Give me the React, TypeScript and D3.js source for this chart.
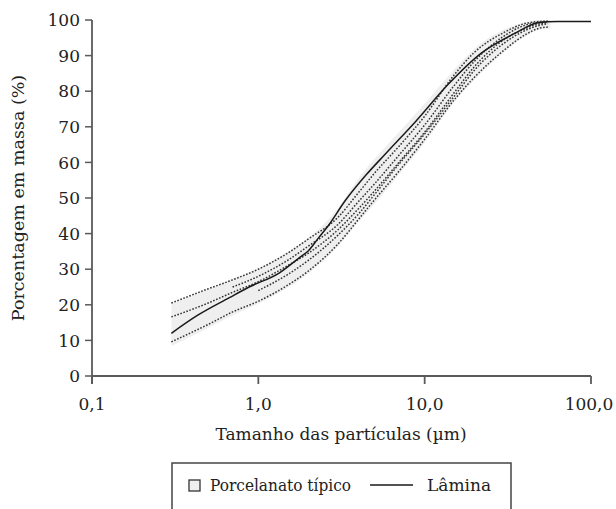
import React from 'react'
import * as d3 from 'd3'

// Particle size (µm) grid used by the "Porcelanato típico" band
const bandSize = [0.3, 0.5, 0.7, 1, 1.5, 2, 3, 4, 5, 7, 10, 15, 20, 30, 40, 50, 57]
const bandUpper = [20.2, 24.5, 27.3, 30.3, 34.8, 38.8, 47, 55.5, 61, 68.5, 76.5, 86, 92, 97.3, 99.4, 100, 100]
const bandLower = [8.4, 13.5, 17, 20.3, 24.8, 28.8, 36.3, 43.3, 48.3, 56.5, 65.5, 76.8, 83.3, 91, 95.3, 97.3, 97.5]

// Dotted curves inside the band (typical porcelain tile distributions)
const dottedSize = [0.3, 0.5, 0.7, 1, 1.5, 2, 3, 4, 5, 7, 10, 15, 20, 30, 40, 50, 55]
const dottedT = [20.5, 24.5, 27, 30, 34.5, 38.5, 44.5, 51.5, 57, 64.5, 73, 84.5, 91, 96.5, 99, 99.6, 99.7]
const dottedN = [null, null, 25, 28, 32.5, 36.5, 42.5, 49, 54, 62, 70.5, 81.5, 88.5, 95.5, 98.5, 99.4, 99.5]
const dottedM = [16.6, 20.5, 23.5, 26.5, 31, 34.5, 41, 47, 52, 60, 68.5, 79.5, 87, 94.5, 97.5, 99, 99.3]
const dottedP = [null, null, null, 24, 28.5, 32.5, 39.5, 45.5, 51, 59.5, 68, 78.5, 86, 93.5, 97, 98.6, 99]
const dottedL = [9.6, 14.5, 18, 21, 25.5, 29.5, 37, 44, 49.5, 57.5, 66.5, 77.5, 84, 91.5, 95.8, 97.8, 98]

// "Lâmina" curve
const laminaSize = [0.3, 0.43, 0.67, 0.88, 1.34, 1.76, 2.0, 2.3, 2.66, 3.3, 4.45, 5.84, 8.83, 13.9, 21.9, 35, 48, 63, 100]
const laminaPct = [12, 17, 22, 25, 29, 33.2, 35.2, 38.8, 42.5, 49, 56.5, 62.5, 71.5, 82, 90.7, 96.3, 99.2, 99.6, 99.6]

const xTicks = [0.1, 1, 10, 100]
const xTickLabels = ['0,1', '1,0', '10,0', '100,0']
const yTicks = [0, 10, 20, 30, 40, 50, 60, 70, 80, 90, 100]

const W = 616
const H = 509
const FONT = "'DejaVu Serif', serif"

export default function App() {
  const x = d3.scaleLog().domain([0.1, 100]).range([92, 591])
  const y = d3.scaleLinear().domain([0, 100]).range([376, 20])

  const area = d3.area<number>()
    .x((_, i) => x(bandSize[i]))
    .y0((_, i) => y(bandLower[i]))
    .y1((_, i) => y(bandUpper[i]))
    .curve(d3.curveMonotoneX)

  const line = d3.line<[number, number | null]>()
    .defined(d => d[1] !== null)
    .x(d => x(d[0]))
    .y(d => y(d[1] as number))
    .curve(d3.curveMonotoneX)

  const dotted = [dottedT, dottedN, dottedM, dottedP, dottedL].map(vals =>
    line(dottedSize.map((s, i) => [s, vals[i]] as [number, number | null]))
  )
  const lamina = line(laminaSize.map((s, i) => [s, laminaPct[i]] as [number, number]))

  const axisColor = '#5a5a5a'
  const txt = { fontFamily: FONT, fontSize: 17, fill: '#222' }

  return (
    <svg width={W} height={H} style={{ position: 'absolute', left: 0, top: 0, background: '#fff' }}>
      <path d={area(bandSize) || ''} fill="#efefef" stroke="none" />
      {dotted.map((d, i) => (
        <path key={i} d={d || ''} fill="none" stroke="#333" strokeWidth={1.5} strokeDasharray="1.6,1.6" />
      ))}
      <path d={lamina || ''} fill="none" stroke="#1a1a1a" strokeWidth={1.5} />

      {/* axes */}
      <line x1={x(0.1)} x2={x(100)} y1={y(0)} y2={y(0)} stroke={axisColor} strokeWidth={1.8} />
      <line x1={x(0.1)} x2={x(0.1)} y1={y(100)} y2={y(0) + 8} stroke={axisColor} strokeWidth={1.8} />
      {yTicks.map(t => (
        <g key={t}>
          <line x1={x(0.1) - 7} x2={x(0.1)} y1={y(t)} y2={y(t)} stroke={axisColor} strokeWidth={1.5} />
          <text x={80} y={y(t)} dy="0.36em" textAnchor="end" style={txt}>{t}</text>
        </g>
      ))}
      {xTicks.map((t, i) => (
        <g key={t}>
          <line x1={x(t)} x2={x(t)} y1={y(0)} y2={y(0) + 8} stroke={axisColor} strokeWidth={1.8} />
          <text x={i === 3 ? x(t) - 2 : x(t)} y={410} textAnchor="middle" style={txt}>{xTickLabels[i]}</text>
        </g>
      ))}

      <text x={341} y={440} textAnchor="middle" style={txt}>Tamanho das partículas (µm)</text>
      <text transform={`translate(24,${y(50)}) rotate(-90)`} textAnchor="middle" style={{ ...txt, fontSize: 17.5 }}>
        Porcentagem em massa (%)
      </text>

      {/* legend */}
      <rect x={172} y={463} width={339} height={60} fill="#fff" stroke="#444" strokeWidth={1.5} />
      <rect x={189} y={480} width={11} height={11} fill="#efefef" stroke="#333" strokeWidth={1.3} />
      <text x={210} y={491} style={txt} textLength={141} lengthAdjust="spacingAndGlyphs">Porcelanato típico</text>
      <line x1={370} x2={413} y1={485} y2={485} stroke="#1a1a1a" strokeWidth={1.5} />
      <text x={427} y={491} style={txt}>Lâmina</text>
    </svg>
  )
}
